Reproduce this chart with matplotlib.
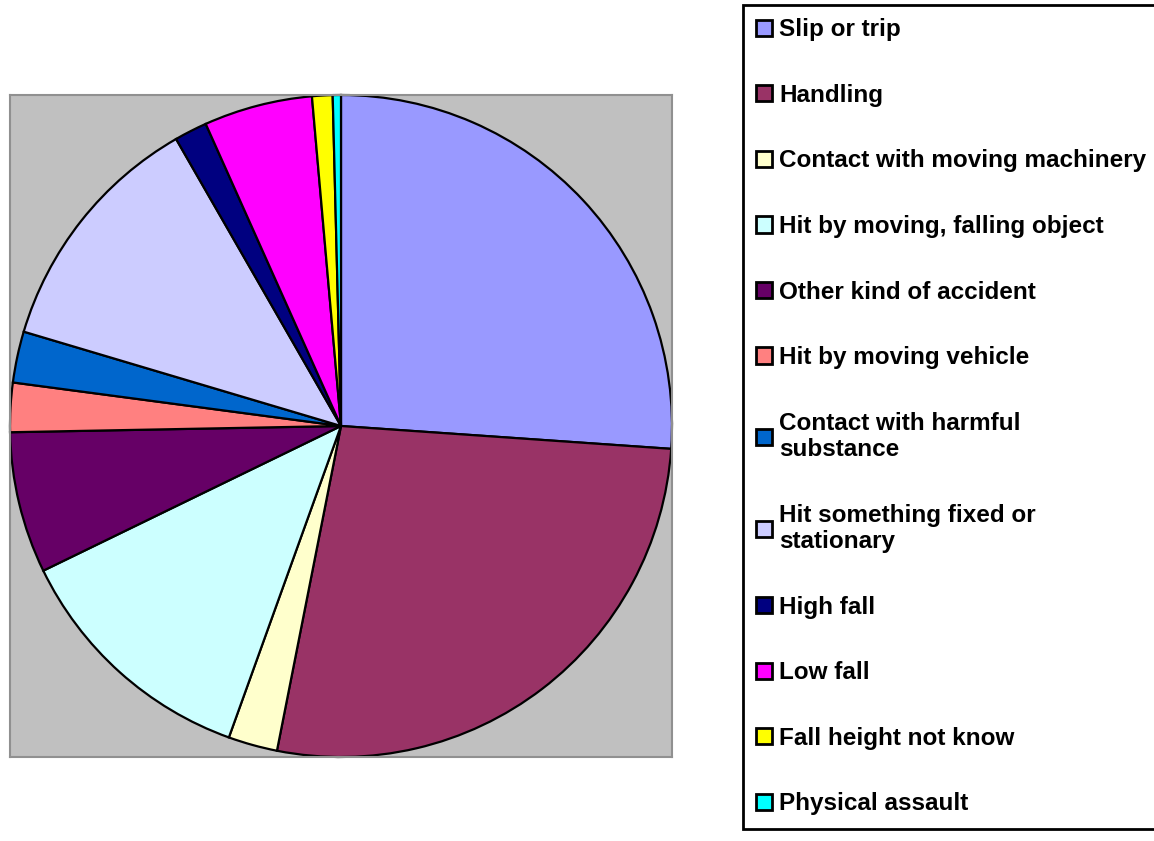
import matplotlib.pyplot as plt

# accident categories, share of reported injuries (%)
categories = [
    "Slip or trip",
    "Handling",
    "Contact with moving machinery",
    "Hit by moving, falling object",
    "Other kind of accident",
    "Hit by moving vehicle",
    "Contact with harmful\nsubstance",
    "Hit something fixed or\nstationary",
    "High fall",
    "Low fall",
    "Fall height not know",
    "Physical assault",
]
shares = [26.1, 27.0, 2.4, 12.3, 6.9, 2.4, 2.5, 12.1, 1.6, 5.3, 1.0, 0.4]
colors = ["#9999FF", "#993366", "#FFFFCC", "#CCFFFF", "#660066", "#FF8080",
          "#0066CC", "#CCCCFF", "#000080", "#FF00FF", "#FFFF00", "#00FFFF"]

plt.rcParams["font.family"] = ["Liberation Sans", "DejaVu Sans"]

fig = plt.figure(figsize=(11.54, 8.41), dpi=100)
ax = fig.add_axes([10 / 1154, 84 / 841, 662 / 1154, 662 / 841])

wedges, _ = ax.pie(shares, colors=colors, startangle=90, counterclock=False,
                   radius=1.0, wedgeprops=dict(edgecolor="black", linewidth=1.6))
ax.set_frame_on(True)
ax.set_facecolor("#C0C0C0")
ax.set_xlim(-1, 1)
ax.set_ylim(-1, 1)
ax.set_aspect("equal")
ax.set_xticks([])
ax.set_yticks([])
for s in ax.spines.values():
    s.set_visible(True)
    s.set_color("#909090")
    s.set_linewidth(1.5)

leg = fig.legend(wedges, categories, loc="upper left",
                 bbox_to_anchor=(743 / 1154, 836 / 841),
                 fancybox=False, frameon=True, edgecolor="black", framealpha=1,
                 prop=dict(weight="bold", size=17.5),
                 handlelength=0.65, handleheight=0.65, handletextpad=0.3,
                 labelspacing=1.75, borderpad=0.55, borderaxespad=0)
leg.get_frame().set_linewidth(2)
for h in leg.legend_handles:
    h.set_linewidth(2)

fig.savefig("out.png", dpi=100)
